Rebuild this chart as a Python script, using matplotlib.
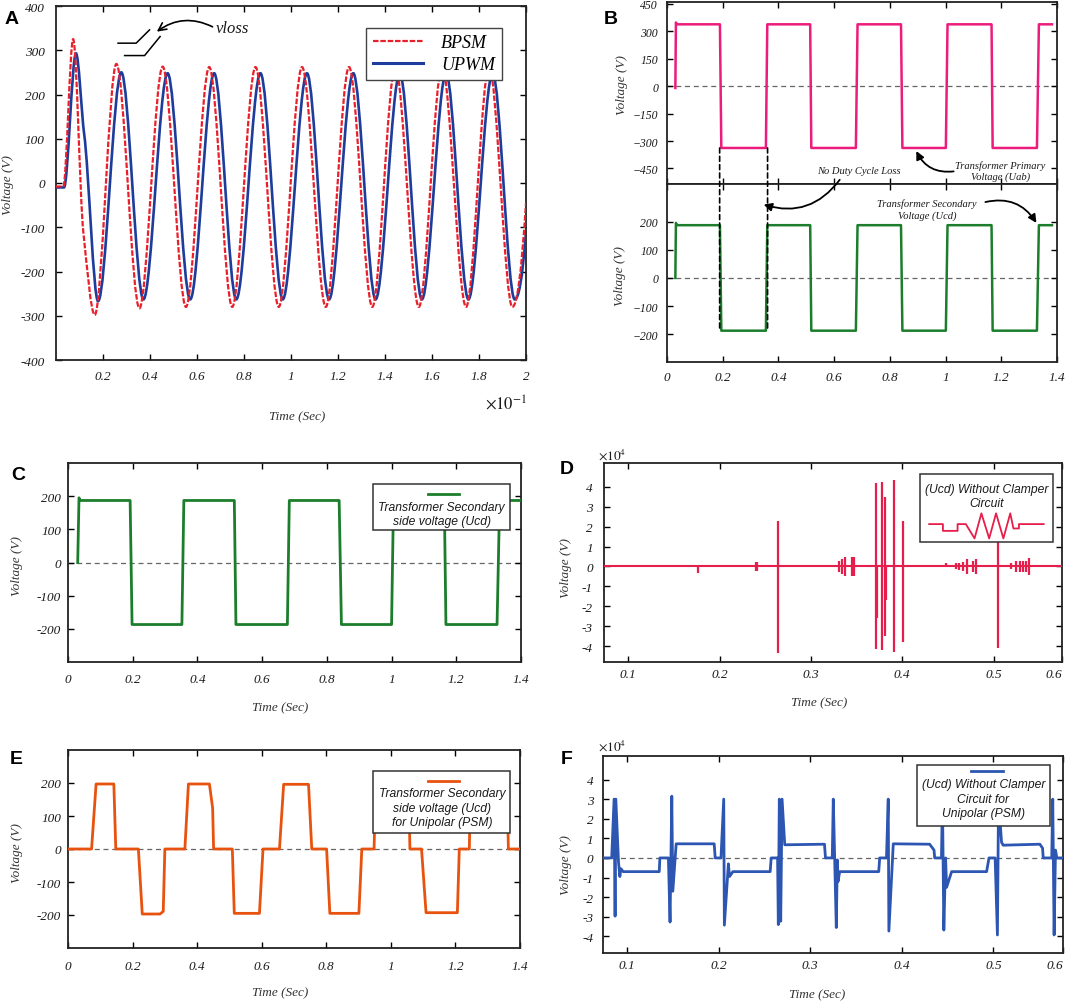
import matplotlib
matplotlib.use("Agg")
import matplotlib.pyplot as plt
from matplotlib.path import Path
from matplotlib.patches import PathPatch, Rectangle, ConnectionPatch
from matplotlib.lines import Line2D

# ======================= DATA =======================
# Panel A (time axis in units of 1e-1 s): turning points of both waveforms
BPSM_T = [0.000, 0.031, 0.073, 0.116, 0.165, 0.257, 0.355, 0.454, 0.553, 0.652, 0.750, 0.849, 0.948,
          1.047, 1.148, 1.247, 1.346, 1.444, 1.544, 1.643, 1.745, 1.843, 1.942, 2.000]
BPSM_V = [-8, -8, 325, -109, -298, 269, -283, 263, -280, 262, -280, 262, -280,
          262, -280, 262, -280, 262, -280, 262, -280, 262, -280, -45]
BPSM_SLOPE = [0, 0, 0, -5000] + [0] * 19 + [8400]

UPWM_T = [0.000, 0.034, 0.085, 0.120, 0.179, 0.278, 0.372, 0.475, 0.571, 0.673, 0.767, 0.870, 0.965,
          1.068, 1.162, 1.265, 1.360, 1.463, 1.557, 1.660, 1.755, 1.858, 1.952, 2.000]
UPWM_V = [-10, -10, 293, 110, -267, 250, -263, 248, -263, 248, -263, 248, -263,
          248, -263, 248, -263, 248, -263, 248, -263, 248, -263, -110]
UPWM_SLOPE = [0, 0, 0, -4000] + [0] * 19 + [7000]

# schematic "vloss" steps in panel A
VLOSS1_T = [0.264, 0.341, 0.398]
VLOSS1_V = [316, 316, 346]
VLOSS2_T = [0.292, 0.377, 0.443]
VLOSS2_V = [288, 288, 331]

# Panel B
UAB_T = [0.030, 0.032, 0.036, 0.190, 0.195, 0.355, 0.360, 0.514, 0.518, 0.678, 0.684, 0.840, 0.845,
         1.001, 1.007, 1.165, 1.169, 1.328, 1.335, 1.382]
UAB_V = [-10, 348, 338, 338, -338, -338, 338, 338, -338, -338, 338, 338, -338,
         -338, 338, 338, -338, -338, 338, 338]
UCDB_T = [0.030, 0.032, 0.036, 0.190, 0.195, 0.355, 0.360, 0.514, 0.518, 0.678, 0.684, 0.840, 0.845,
          1.001, 1.007, 1.165, 1.169, 1.328, 1.335, 1.382]
UCDB_V = [0, 195, 187, 187, -187, -187, 187, 187, -187, -187, 187, 187, -187,
          -187, 187, 187, -187, -187, 187, 187]
B_MARK_T = [0.189, 0.361]

# Panel C
UCD_T = [0.030, 0.034, 0.038, 0.192, 0.198, 0.352, 0.358, 0.514, 0.519, 0.678, 0.684, 0.838, 0.845,
         1.000, 1.006, 1.163, 1.168, 1.326, 1.334, 1.400]
UCD_V = [0, 195, 187, 187, -187, -187, 187, 187, -187, -187, 187, 187, -187,
         -187, 187, 187, -187, -187, 187, 187]

# Panel D (x1e4 V): spikes
D_T = [0.176, 0.2395, 0.2405, 0.2637, 0.331, 0.334, 0.337, 0.3445, 0.3476, 0.3708, 0.3725, 0.3783,
       0.3810, 0.3820, 0.3914, 0.4007, 0.4476, 0.4588, 0.4625, 0.4663, 0.4710, 0.4778, 0.4813,
       0.5049, 0.5187, 0.5250, 0.5288, 0.5318, 0.5356, 0.5393]
D_POS = [0.0, 0.25, 0.25, 2.3, 0.3, 0.4, 0.5, 0.5, 0.5, 4.2, 0.0, 4.25,
         3.5, 0.0, 4.35, 2.3, 0.2, 0.15, 0.2, 0.25, 0.4, 0.3, 0.4,
         2.0, 0.15, 0.3, 0.3, 0.3, 0.3, 0.45]
D_NEG = [-0.35, -0.25, -0.25, -4.35, -0.3, -0.4, -0.5, -0.5, -0.5, -4.15, -2.6, -4.2,
         -3.5, -1.7, -4.3, -3.8, 0.0, -0.15, -0.2, -0.25, -0.4, -0.3, -0.4,
         -4.1, -0.15, -0.3, -0.3, -0.3, -0.3, -0.45]
D_BASE_T = [0.0734, 0.575]
D_BASE_V = [0, 0]

# Panel E
E_T = [0.000, 0.073, 0.087, 0.142, 0.148, 0.218, 0.230, 0.285, 0.295, 0.300, 0.362, 0.373, 0.438,
       0.448, 0.451, 0.509, 0.515, 0.593, 0.604, 0.655, 0.668, 0.745, 0.755, 0.801, 0.811, 0.901,
       0.910, 0.948, 0.953, 1.055, 1.059, 1.095, 1.109, 1.206, 1.212, 1.243, 1.247, 1.360, 1.364, 1.400]
E_V = [0, 0, 197, 197, 0, 0, -197, -197, -189, 0, 0, 197, 197,
       124, 0, 0, -195, -195, 0, 0, 196, 196, 0, 0, -195, -195,
       0, 0, 197, 197, 0, 0, -193, -193, 0, 0, 197, 197, 0, 0]

# Panel F (x1e4 V)
F_T = [0.0738, 0.0833, 0.0859, 0.0870, 0.0878, 0.0907, 0.0922, 0.0933, 0.0959, 0.1352, 0.1359,
       0.1452, 0.1470, 0.1489, 0.1500, 0.1537, 0.1952, 0.1963, 0.2026, 0.2056, 0.2063, 0.2107,
       0.2119, 0.2156, 0.2563, 0.2574, 0.2644, 0.2652, 0.2663, 0.2678, 0.2693, 0.2722, 0.3156,
       0.3167, 0.3241, 0.3252, 0.3285, 0.3296, 0.3304, 0.3322, 0.3748, 0.3759, 0.3833, 0.3852,
       0.3859, 0.3907, 0.4304, 0.4352, 0.4359, 0.4433, 0.4444, 0.4459, 0.4478, 0.4489, 0.4544,
       0.4926, 0.4952, 0.5019, 0.5044, 0.5056, 0.5089, 0.5107, 0.5507, 0.5537, 0.5544, 0.5637,
       0.5648, 0.5663, 0.5678, 0.5693, 0.5760]
F_V = [0, 0, 3.0, -2.97, 3.0, -0.2, -0.95, -0.55, -0.7, -0.7, 0,
       0, -3.27, 3.15, -1.7, 0.72, 0.72, 0, 0, 3.0, -3.43, -0.3,
       -0.95, -0.7, -0.7, 0, 0, -3.4, 3.0, -3.23, 3.0, 0.67, 0.7,
       0, 0, 3.0, -3.55, -0.1, -1.2, -0.7, -0.7, 0, 0, 3.0,
       -3.73, 0.72, 0.7, 0.4, 0, 0, 3.0, -3.68, 0, -1.5, -0.7,
       -0.7, 0, 0, -3.93, 3.0, 0.8, 0.65, 0.7, 0.5, 0, 0,
       3.0, -3.93, 0.4, 0, 0]

# legend icon of panel D (shape of the noisy waveform, axes fractions)
D_ICON_X = [0.710, 0.740, 0.740, 0.772, 0.772, 0.790, 0.809, 0.824, 0.841, 0.856, 0.872, 0.887,
            0.894, 0.906, 0.906, 0.960]
D_ICON_Y = [0.693, 0.693, 0.659, 0.659, 0.693, 0.693, 0.621, 0.747, 0.621, 0.747, 0.621, 0.747,
            0.671, 0.671, 0.693, 0.693]

# ======================= STYLE =======================
W, H = 1065, 1004
SERIF = 'Liberation Serif'
SANS = 'Liberation Sans'
plt.rcParams['mathtext.fontset'] = 'stix'

RED = '#E8202A'
BLUE = '#1E3C9B'
PINK = '#EC1C7C'
GREEN = '#1C7E2C'
CRIMSON = '#E61E4B'
ORANGE = '#E8520F'
FBLUE = '#2C56B2'
TXT = '#1a1a1a'

fig = plt.figure(figsize=(W / 100, H / 100), dpi=100)


def add_ax(l, r, t, b):
    return fig.add_axes([l / W, 1 - b / H, (r - l) / W, (b - t) / H])


def style(ax, xlim, ylim, xt, xl, yt, yl, xpad=5, ypad=5, xs=9.5, ys=9.5):
    ax.set_xlim(*xlim)
    ax.set_ylim(*ylim)
    ax.set_xticks(xt)
    ax.set_xticklabels(xl, fontfamily=SERIF, fontstyle='italic', fontsize=xs, color=TXT)
    ax.set_yticks(yt)
    ax.set_yticklabels(yl, fontfamily=SERIF, fontstyle='italic', fontsize=ys, color=TXT)
    ax.tick_params(axis='x', direction='in', top=True, length=4, width=1, pad=xpad)
    ax.tick_params(axis='y', direction='in', right=True, length=4, width=1, pad=ypad)
    for s in ax.spines.values():
        s.set_linewidth(1.3)
        s.set_color('#222')


def flabel(x, y, s, rot=0, size=9.5):
    fig.text(x / W, 1 - y / H, s, rotation=rot, ha='center', va='center',
             fontfamily=SERIF, fontstyle='italic', fontsize=size, color='#333')


def letter(x, y, s):
    fig.text(x / W, 1 - y / H, s, ha='center', va='center', fontfamily=SANS,
             fontweight='bold', fontsize=14, color='black')


def zero_line(ax):
    ax.axhline(0, color='#666', ls=(0, (4, 3)), lw=0.9, zorder=1)


def smooth_path(t, v, m):
    verts = [(t[0], v[0])]
    codes = [Path.MOVETO]
    for i in range(len(t) - 1):
        dt = t[i + 1] - t[i]
        verts += [(t[i] + dt / 3, v[i] + m[i] * dt / 3),
                  (t[i + 1] - dt / 3, v[i + 1] - m[i + 1] * dt / 3),
                  (t[i + 1], v[i + 1])]
        codes += [Path.CURVE4] * 3
    return Path(verts, codes)


def boxed_legend(ax, box, lines, ys, xc, sample, color, size=8.7, lw=2.0):
    x0, x1, y0, y1 = box
    ax.add_patch(Rectangle((x0, y0), x1 - x0, y1 - y0, transform=ax.transAxes,
                           facecolor='white', edgecolor='#333', lw=1.1, zorder=5, clip_on=False))
    for s, y in zip(lines, ys):
        ax.text(xc, y, s, transform=ax.transAxes, ha='center', va='center', fontfamily=SANS,
                fontstyle='italic', fontsize=size, color=TXT, zorder=6)
    ax.plot(sample[0], sample[1], transform=ax.transAxes, color=color, lw=lw, zorder=6,
            clip_on=False)


# ======================= PANEL A =======================
axA = add_ax(56, 526, 7, 361)
axA.add_patch(PathPatch(smooth_path(UPWM_T, UPWM_V, UPWM_SLOPE), fill=False, edgecolor=BLUE,
                        lw=1.9, zorder=3))
axA.add_patch(PathPatch(smooth_path(BPSM_T, BPSM_V, BPSM_SLOPE), fill=False, edgecolor=RED,
                        lw=1.6, linestyle=(0, (2.5, 0.8)), zorder=4))
style(axA, (0, 2), (-400, 400),
      [0.2, 0.4, 0.6, 0.8, 1.0, 1.2, 1.4, 1.6, 1.8, 2.0],
      ['0.2', '0.4', '0.6', '0.8', '1', '1.2', '1.4', '1.6', '1.8', '2'],
      list(range(-400, 401, 100)),
      ['-400', '-300', '-200', '-100', '0', '100', '200', '300', '400'], xpad=7, ypad=8)
axA.plot(VLOSS1_T, VLOSS1_V, color='k', lw=1.1)
axA.plot(VLOSS2_T, VLOSS2_V, color='k', lw=1.1)
axA.annotate('', xy=(0.429, 342), xytext=(0.666, 353),
             arrowprops=dict(arrowstyle='->', color='k', lw=1.2, shrinkA=0, shrinkB=0,
                             connectionstyle='arc3,rad=0.3', mutation_scale=14))
axA.text(0.750, 351, 'vloss', ha='center', va='center', fontfamily=SERIF, fontstyle='italic',
         fontsize=12, color=TXT)
axA.legend(handles=[Line2D([], [], color=RED, lw=1.6, ls=(0, (2.5, 0.8)), label='BPSM'),
                    Line2D([], [], color=BLUE, lw=2.2, label='UPWM')],
           loc='upper right', bbox_to_anchor=(0.948, 0.939), borderaxespad=0,
           prop={'family': SERIF, 'style': 'italic', 'size': 13}, fancybox=False,
           edgecolor='#444', framealpha=1, handlelength=2.8, handletextpad=1.0,
           borderpad=0.35, labelspacing=0.3)
axA.get_legend().get_frame().set_linewidth(1.0)
fig.text(506 / W, 1 - 405 / H, r'$\mathit{\times 10^{-1}}$', ha='center', va='center',
         fontsize=12, color=TXT)
flabel(8, 185, 'Voltage (V)', rot=90)
flabel(297, 417, 'Time (Sec)')
letter(12, 20, 'A')

# ======================= PANEL B =======================
axB1 = add_ax(667, 1057, 3, 185)
axB2 = add_ax(667, 1057, 185, 363)
zero_line(axB1)
zero_line(axB2)
axB1.plot(UAB_T, UAB_V, color=PINK, lw=1.8, zorder=3)
axB2.plot(UCDB_T, UCDB_V, color=GREEN, lw=1.8, zorder=3)
BX = [0, 0.2, 0.4, 0.6, 0.8, 1.0, 1.2, 1.4]
style(axB1, (0, 1.4), (-535, 460), BX, [''] * 8,
      [-450, -300, -150, 0, 150, 300, 450],
      ['\u2212450', '\u2212300', '\u2212150', '0', '150', '300', '450'], ypad=6.5, ys=8.5)
style(axB2, (0, 1.4), (-298, 333), BX, ['0', '0.2', '0.4', '0.6', '0.8', '1', '1.2', '1.4'],
      [-200, -100, 0, 100, 200], ['\u2212200', '\u2212100', '0', '100', '200'],
      xpad=6.5, ypad=6.5, ys=8.5)
for t in B_MARK_T:
    con = ConnectionPatch(xyA=(t, UAB_V[4]), coordsA=axB1.transData,
                          xyB=(t, UCDB_V[4]), coordsB=axB2.transData,
                          color='k', lw=1.2, ls=(0, (3, 2)), zorder=6)
    fig.add_artist(con)
ann_font = dict(fontfamily=SERIF, fontstyle='italic', fontsize=7.6, color=TXT,
                ha='center', va='center', linespacing=1.25)
axB1.text(0.688, -462, 'No Duty Cycle Loss', **ann_font)
axB1.text(1.197, -463, 'Transformer Primary\nVoltage (Uab)', **ann_font)
axB1.annotate('', xy=(0.895, -355), xytext=(1.029, -466),
              arrowprops=dict(arrowstyle='-|>', color='k', lw=1.3, shrinkA=0, shrinkB=0,
                              connectionstyle='arc3,rad=-0.35', mutation_scale=12))
axB2.text(0.933, 244, 'Transformer Secondary\nVoltage (Ucd)', **ann_font)
axB2.annotate('', xy=(1.326, 195), xytext=(1.143, 269),
              arrowprops=dict(arrowstyle='-|>', color='k', lw=1.3, shrinkA=0, shrinkB=0,
                              connectionstyle='arc3,rad=-0.35', mutation_scale=12))
axB2.annotate('', xy=(0.347, 260), xycoords='data', xytext=(0.62, -512),
              textcoords=axB1.transData, annotation_clip=False,
              arrowprops=dict(arrowstyle='-|>', color='k', lw=1.3, shrinkA=0, shrinkB=0,
                              connectionstyle='arc3,rad=-0.35', mutation_scale=12))
flabel(622, 85, 'Voltage (V)', rot=90)
flabel(620, 276, 'Voltage (V)', rot=90)
letter(611, 19, 'B')

# ======================= PANEL C =======================
axC = add_ax(68, 521, 464, 663)
zero_line(axC)
axC.plot(UCD_T, UCD_V, color=GREEN, lw=2.0, zorder=3)
style(axC, (0, 1.4), (-300, 300), BX, ['0', '0.2', '0.4', '0.6', '0.8', '1', '1.2', '1.4'],
      [-200, -100, 0, 100, 200], ['-200', '-100', '0', '100', '200'], xpad=8, ypad=5)
boxed_legend(axC, (0.673, 0.976, 0.662, 0.896),
             ['Transformer Secondary', 'side voltage (Ucd)'], [0.779, 0.707], 0.825,
             ([0.794, 0.864], [0.844, 0.844]), GREEN)
flabel(17, 566, 'Voltage (V)', rot=90)
flabel(280, 708, 'Time (Sec)')
letter(18, 476, 'C')

# ======================= PANEL D =======================
axD = add_ax(604, 1062, 464, 663)
axD.plot(D_BASE_T, D_BASE_V, color=CRIMSON, lw=1.5, zorder=3)
axD.vlines(D_T, D_NEG, D_POS, colors=CRIMSON, lw=1.6, zorder=3)
DY = [-4, -3, -2, -1, 0, 1, 2, 3, 4]
style(axD, (0.0734, 0.575), (-4.8, 5.2), [0.1, 0.2, 0.3, 0.4, 0.5, 0.575],
      ['0.1', '0.2', '0.3', '0.4', '0.5', '0.6'], DY, [str(v) for v in DY], xpad=4.5, ypad=8)
axD.get_xticklabels()[-1].set_horizontalalignment('right')
boxed_legend(axD, (0.69, 0.98, 0.604, 0.945),
             ['(Ucd) Without Clamper', 'Circuit'], [0.869, 0.799], 0.835,
             (D_ICON_X, D_ICON_Y), CRIMSON, lw=1.3)
fig.text(612 / W, 1 - 455 / H, r'$\mathit{\times 10^{4}}$', ha='center', va='center',
         fontsize=9.5, color=TXT)
flabel(566, 568, 'Voltage (V)', rot=90)
flabel(819, 703, 'Time (Sec)')
letter(567, 469, 'D')

# ======================= PANEL E =======================
axE = add_ax(68, 520, 751, 949)
zero_line(axE)
axE.plot(E_T, E_V, color=ORANGE, lw=2.0, zorder=3)
style(axE, (0, 1.4), (-300, 300), BX, ['0', '0.2', '0.4', '0.6', '0.8', '1', '1.2', '1.4'],
      [-200, -100, 0, 100, 200], ['-200', '-100', '0', '100', '200'], xpad=8.5, ypad=5)
boxed_legend(axE, (0.674, 0.978, 0.58, 0.894),
             ['Transformer Secondary', 'side voltage (Ucd)', 'for Unipolar (PSM)'],
             [0.785, 0.708, 0.634], 0.828, ([0.796, 0.866], [0.844, 0.844]), ORANGE)
flabel(17, 853, 'Voltage (V)', rot=90)
flabel(280, 993, 'Time (Sec)')
letter(16, 760, 'E')

# ======================= PANEL F =======================
axF = add_ax(603, 1063, 757, 954)
zero_line(axF)
axF.plot(F_T, F_V, color=FBLUE, lw=2.0, zorder=3)
style(axF, (0.0738, 0.576), (-4.85, 5.2), [0.1, 0.2, 0.3, 0.4, 0.5, 0.576],
      ['0.1', '0.2', '0.3', '0.4', '0.5', '0.6'], DY, [str(v) for v in DY], xpad=4, ypad=7)
axF.get_xticklabels()[-1].set_horizontalalignment('right')
boxed_legend(axF, (0.682, 0.972, 0.645, 0.955),
             ['(Ucd) Without Clamper', 'Circuit for', 'Unipolar (PSM)'],
             [0.858, 0.782, 0.709], 0.827, ([0.80, 0.87], [0.925, 0.925]), FBLUE)
fig.text(612 / W, 1 - 746 / H, r'$\mathit{\times 10^{4}}$', ha='center', va='center',
         fontsize=9.5, color=TXT)
flabel(566, 865, 'Voltage (V)', rot=90)
flabel(817, 995, 'Time (Sec)')
letter(567, 760, 'F')

fig.savefig('out.png', dpi=100)
